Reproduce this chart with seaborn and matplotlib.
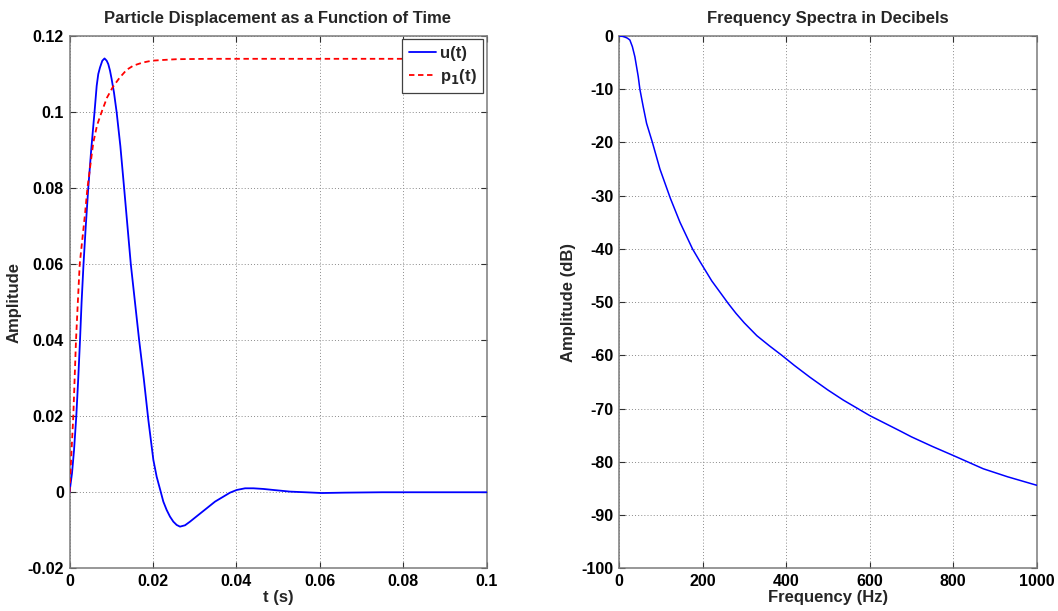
import matplotlib
matplotlib.use("Agg")
import matplotlib.pyplot as plt
import seaborn as sns
import pandas as pd

# ---------------- data ----------------
t_u = [0, 0.0006, 0.00108, 0.00163, 0.0021, 0.00252, 0.0029, 0.00336, 0.0039,
       0.0045, 0.0052, 0.0060, 0.00652, 0.0069, 0.00731, 0.00787, 0.0084,
       0.00892, 0.0093, 0.00971, 0.0101, 0.01067, 0.0113, 0.0122, 0.0131,
       0.0139, 0.0147, 0.0157, 0.0167, 0.0178, 0.01891, 0.02011, 0.0209,
       0.02186, 0.0225, 0.0233, 0.0241, 0.0249, 0.0257, 0.0265, 0.0277,
       0.0289, 0.0309, 0.0329, 0.0349, 0.0369, 0.0385, 0.0401, 0.0421,
       0.0441, 0.0465, 0.0489, 0.0529, 0.0565, 0.0605, 0.066, 0.075, 0.1]
u_vals = [0, 0.005, 0.011, 0.02, 0.03, 0.04, 0.05, 0.06, 0.07,
          0.08, 0.09, 0.1, 0.1069, 0.110, 0.1117, 0.1135, 0.1141,
          0.1135, 0.1126, 0.1109, 0.1087, 0.1051, 0.1, 0.091, 0.08,
          0.07, 0.06, 0.05, 0.04, 0.03, 0.019, 0.0085, 0.0041,
          0.0002, -0.00246, -0.00466, -0.00641, -0.00773, -0.0086, -0.00904, -0.00869,
          -0.00773, -0.00597, -0.00422, -0.00246, -0.00115, -0.0001, 0.0006, 0.00104,
          0.00104, 0.00087, 0.0006, 0.00017, 0.0, -0.0002, -0.0001, 0.0, 0.0]

t_p = [0, 0.0004, 0.00091, 0.00156, 0.0020, 0.00245, 0.0037, 0.0043, 0.0050,
       0.0057, 0.0066, 0.0077, 0.0090, 0.0104, 0.0120, 0.0137, 0.0153,
       0.0175, 0.0197, 0.0225, 0.0257, 0.0337, 0.1]
p_vals = [0, 0.009, 0.02, 0.04, 0.05, 0.06, 0.073, 0.08, 0.086,
          0.0919, 0.0965, 0.1, 0.1038, 0.1066, 0.109, 0.1111, 0.1122,
          0.113, 0.1135, 0.1137, 0.1139, 0.114, 0.114]

freq_hz = [0, 8, 14, 20, 26, 32, 38, 46, 50, 58, 66, 80, 98, 123, 146, 176, 194,
           222, 262, 280, 300, 330, 360, 390, 420, 457, 500, 537, 600, 673, 700,
           750, 800, 872, 930, 1000]
amp_db = [0, -0.05, -0.2, -0.4, -0.75, -2.0, -3.9, -7.6, -10, -13.3, -16.4, -20,
          -25.0, -30.5, -35.0, -40, -42.4, -46.0, -50.3, -52.1, -53.9, -56.3,
          -58.2, -60, -61.9, -64.1, -66.5, -68.4, -71.3, -74.2, -75.3, -77.1,
          -78.8, -81.3, -82.8, -84.4]

left_xticks = [0, 0.02, 0.04, 0.06, 0.08, 0.1]
left_xticklabels = ["0", "0.02", "0.04", "0.06", "0.08", "0.1"]
left_yticks = [-0.02, 0, 0.02, 0.04, 0.06, 0.08, 0.1, 0.12]
left_yticklabels = ["-0.02", "0", "0.02", "0.04", "0.06", "0.08", "0.1", "0.12"]
right_xticks = [0, 200, 400, 600, 800, 1000]
right_yticks = [0, -10, -20, -30, -40, -50, -60, -70, -80, -90, -100]

# ---------------- style ----------------
sns.set_theme(style="white")
plt.rcParams["font.family"] = ["Liberation Sans", "DejaVu Sans"]
plt.rcParams["font.weight"] = "bold"
plt.rcParams["axes.titleweight"] = "bold"
plt.rcParams["axes.labelweight"] = "bold"
plt.rcParams["mathtext.default"] = "bf"
plt.rcParams["axes.unicode_minus"] = False

fig = plt.figure(figsize=(10.58, 6.11), dpi=100)
fig.patch.set_facecolor("white")
ax1 = fig.add_axes([69.5 / 1058, 42.7 / 611, 417 / 1058, 532.3 / 611])
ax2 = fig.add_axes([619 / 1058, 42.7 / 611, 417.7 / 1058, 532.3 / 611])

df_u = pd.DataFrame({"t": t_u, "v": u_vals})
df_p = pd.DataFrame({"t": t_p, "v": p_vals})
df_s = pd.DataFrame({"f": freq_hz, "db": amp_db})

sns.lineplot(data=df_u, x="t", y="v", ax=ax1, color=(0, 0, 1), lw=1.3,
             sort=False, estimator=None, label="u(t)", zorder=3)
sns.lineplot(data=df_p, x="t", y="v", ax=ax1, color=(1, 0, 0), lw=1.3,
             linestyle=(0, (3, 2)), sort=False, estimator=None,
             label="p$_1$(t)", zorder=3)
sns.lineplot(data=df_s, x="f", y="db", ax=ax2, color=(0, 0, 1), lw=1.1,
             sort=False, estimator=None, zorder=3)

def style_axes(ax):
    for s in ax.spines.values():
        s.set_visible(True)
        s.set_color("#7a7a7a")
        s.set_linewidth(1.1)
    ax.tick_params(direction="in", length=4, width=0.8, color="#303030",
                   top=True, right=True, bottom=True, left=True,
                   labelsize=11.5, labelcolor="black", pad=4)
    for lab in ax.get_xticklabels() + ax.get_yticklabels():
        lab.set_fontweight("bold")
    ax.grid(True, color="#8a8a8a", linestyle=(0, (1, 2.2)), linewidth=0.7)
    ax.set_axisbelow(True)

ax1.set_xlim(0, 0.1)
ax1.set_ylim(-0.02, 0.12)
ax1.set_xticks(left_xticks)
ax1.set_xticklabels(left_xticklabels)
ax1.set_yticks(left_yticks)
ax1.set_yticklabels(left_yticklabels)
ax1.set_title("Particle Displacement as a Function of Time", fontsize=12,
              fontweight="bold", pad=9)
ax1.set_xlabel("t (s)", fontsize=12, fontweight="bold", labelpad=1)
ax1.set_ylabel("Amplitude", fontsize=12, fontweight="bold", labelpad=4)
style_axes(ax1)

leg = ax1.legend(loc="upper right", frameon=True, fancybox=False,
                 framealpha=1, edgecolor="#404040", borderaxespad=0.2,
                 handlelength=1.6, handletextpad=0.25, borderpad=0.4,
                 labelspacing=0.35, prop={"size": 12, "weight": "bold"})
leg.get_frame().set_linewidth(0.9)

ax2.set_xlim(0, 1000)
ax2.set_ylim(-100, 0)
ax2.set_xticks(right_xticks)
ax2.set_yticks(right_yticks)
ax2.set_title("Frequency Spectra in Decibels", fontsize=12,
              fontweight="bold", pad=9)
ax2.set_xlabel("Frequency (Hz)", fontsize=12, fontweight="bold", labelpad=1)
ax2.set_ylabel("Amplitude (dB)", fontsize=12, fontweight="bold", labelpad=4)
style_axes(ax2)

fig.savefig("out.png", dpi=100, facecolor="white")
